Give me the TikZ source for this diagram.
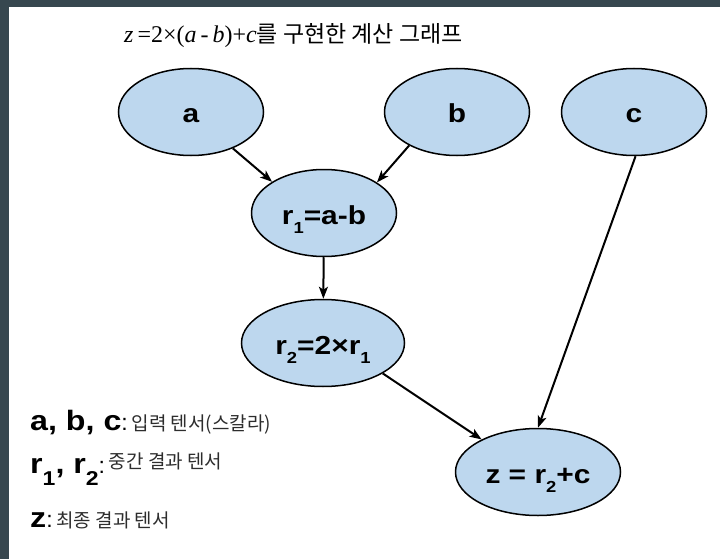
\documentclass[tikz,border=0pt]{standalone}
\usepackage{fontspec}
\setmainfont{Liberation Sans}
\newfontfamily\lblfont[FakeStretch=1.15]{Liberation Sans}
\newfontfamily\kofont{Noto Sans CJK KR}
\newfontfamily\eqfont{Liberation Serif}
\usetikzlibrary{shapes.geometric,arrows.meta}
\definecolor{nodeblue}{RGB}{189,215,238}
\definecolor{framegray}{RGB}{55,71,79}
\definecolor{legendgray}{RGB}{45,45,45}
\newcommand\lsub[2][16]{\smash{\fontsize{#1}{#1}\selectfont\raisebox{-0.62em}{#2}}}
\begin{document}
\begin{tikzpicture}[x=1pt,y=-1pt,
  opnode/.style={ellipse,draw=black,line width=1.5pt,fill=nodeblue,minimum width=145pt,minimum height=87pt,inner sep=0pt,text height=22pt,text depth=0pt,font=\lblfont\bfseries\fontsize{26}{30}\selectfont},
  flow/.style={-{Stealth[length=12pt,width=9pt,inset=3pt]},line width=2pt},
  legend/.style={anchor=base west,inner sep=0pt}]
\useasboundingbox (0,0) rectangle (720,559);
\fill[framegray] (0,0) rectangle (720,559);
\fill[white] (9,7) rectangle (720,559);
\node[legend] (title) at (124,43) {{\eqfont\fontsize{24}{28}\selectfont\itshape z\upshape\,=2×(\itshape a\upshape\,-\,\itshape b\upshape)+\itshape c}{\kofont\fontsize{23}{27}\selectfont 를 구현한 계산 그래프}};
\node[opnode] (a) at (191,112) {a};
\node[opnode] (b) at (457,112) {b};
\node[opnode] (c) at (634,112) {c};
\node[opnode] (r1) at (324,213) {r\lsub{1}=a-b};
\node[opnode,minimum width=163pt] (r2) at (323,343) {r\lsub{2}=2×r\lsub{1}};
\node[opnode,minimum width=165pt] (z) at (538,472) {z = r\lsub{2}+c};
\draw[flow] (a.-41) -- (r1.149);
\draw[flow] (b.-145) -- (r1.30);
\draw[flow] (r1) -- (r2);
\draw[flow] (r2.-27) -- (z.150);
\draw[flow] (c.-88) -- (z.north);
\node[legend] (lgin) at (30,430) {{\lblfont\bfseries\fontsize{28}{32}\selectfont a, b, c}{\fontsize{23}{26}\selectfont:} {\kofont\fontsize{19}{23}\selectfont\color{legendgray}입력 텐서(스칼라)}};
\node[legend] (lgmid) at (30,473) {{\lblfont\bfseries\fontsize{28}{32}\selectfont r\lsub[20]{1}, r\lsub[20]{2}}{\fontsize{23}{26}\selectfont:} \raisebox{5pt}{\kofont\fontsize{19}{23}\selectfont\color{legendgray}중간 결과 텐서}};
\node[legend] (lgout) at (30,527) {{\lblfont\bfseries\fontsize{28}{32}\selectfont z}{\fontsize{23}{26}\selectfont:} {\kofont\fontsize{19}{23}\selectfont\color{legendgray}최종 결과 텐서}};
\end{tikzpicture}
\end{document}
